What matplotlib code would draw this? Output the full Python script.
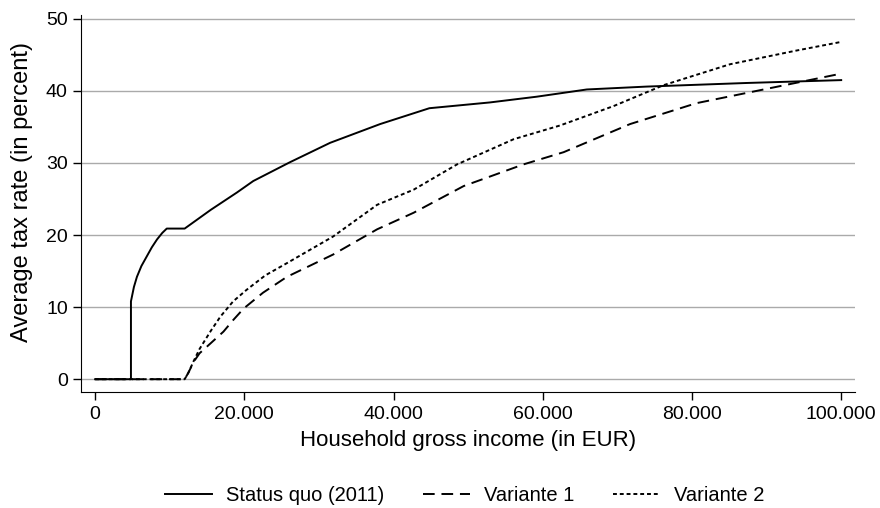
import matplotlib.pyplot as plt
from matplotlib.ticker import FuncFormatter

plt.rcParams['font.family'] = ['Liberation Sans', 'DejaVu Sans']

# Status quo (2011)
sq_x = [0, 4800, 4800, 5200, 5600, 6200, 6900, 7600, 8300, 9000, 9600, 12000,
        15500, 19000, 21200, 26100, 31500, 38200, 44800, 52900, 59200, 65900,
        73900, 87300, 100000]
sq_y = [0, 0, 10.8, 12.8, 14.2, 15.7, 17.0, 18.3, 19.4, 20.3, 20.9, 20.9,
        23.5, 25.9, 27.5, 30.1, 32.8, 35.4, 37.6, 38.4, 39.2, 40.2,
        40.6, 41.1, 41.5]

# Variante 1
v1_x = [0, 12000, 12500, 13200, 14000, 15500, 17200, 18500, 19900, 22500, 25700,
        31900, 37800, 42700, 49400, 57400, 62800, 71700, 80600, 89600, 100000]
v1_y = [0, 0, 0.9, 2.4, 3.6, 5.0, 6.6, 8.2, 9.8, 12.0, 14.2,
        17.3, 20.8, 23.1, 26.8, 29.8, 31.5, 35.4, 38.3, 40.2, 42.4]

# Variante 2
v2_x = [0, 12000, 12500, 13200, 14000, 15500, 16800, 18500, 20300, 22800, 25700,
        31900, 37800, 42700, 48500, 56100, 62300, 69500, 76200, 85100, 94000,
        100000]
v2_y = [0, 0, 0.9, 2.5, 4.2, 6.7, 8.7, 10.8, 12.4, 14.4, 16.1,
        19.8, 24.2, 26.3, 29.8, 33.3, 35.2, 37.9, 40.8, 43.7, 45.6,
        46.8]

x_ticks = [0, 20000, 40000, 60000, 80000, 100000]
y_ticks = [0, 10, 20, 30, 40, 50]

fig = plt.figure(figsize=(8.8, 5.08), dpi=100)
ax = fig.add_axes([0.092, 0.228, 0.880, 0.742])

ax.plot(sq_x, sq_y, color='black', lw=1.4, label='Status quo (2011)')
ax.plot(v1_x, v1_y, color='black', lw=1.4, dashes=(6, 3.5), label='Variante 1')
ax.plot(v2_x, v2_y, color='black', lw=1.4, dashes=(2, 1.5), label='Variante 2')

ax.set_xlim(-1900, 101900)
ax.set_ylim(-1.8, 50.5)
ax.set_xticks(x_ticks)
ax.set_yticks(y_ticks)
ax.xaxis.set_major_formatter(FuncFormatter(lambda v, p: f'{int(v):,}'.replace(',', '.')))
ax.grid(axis='y', color='#aaaaaa', lw=1)
ax.set_axisbelow(True)
for s in ['top', 'right']:
    ax.spines[s].set_visible(False)
ax.tick_params(axis='both', direction='out', length=6, width=1, labelsize=14, color='black')
ax.tick_params(axis='x', pad=4)

ax.set_xlabel('Household gross income (in EUR)', fontsize=16, labelpad=5)
ax.set_ylabel('Average tax rate (in percent)', fontsize=17)
ax.yaxis.set_label_coords(-0.062, 0.53)

fig.legend(loc='lower center', bbox_to_anchor=(0.528, -0.03), ncol=3, frameon=False,
           fontsize=14.5, handlelength=2.35, handletextpad=0.7, columnspacing=1.9)

fig.savefig('out.png', dpi=100)
